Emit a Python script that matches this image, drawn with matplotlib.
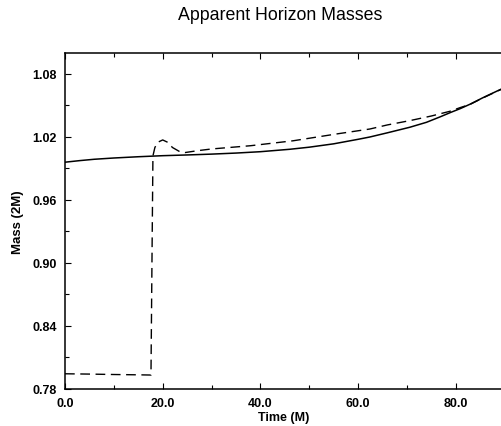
import matplotlib
matplotlib.use("Agg")
import matplotlib.pyplot as plt
from matplotlib.ticker import MultipleLocator, FormatStrFormatter

plt.rcParams['font.family'] = ['Liberation Sans', 'DejaVu Sans']

# Solid curve (apparent horizon mass, one horizon)
t_solid = [0.0, 3.0, 6.0, 10.0, 15.0, 20.0, 25.0, 30.0, 35.0, 40.0, 46.0, 50.0, 55.0,
           60.0, 62.4, 66.0, 70.6, 74.0, 76.8, 79.0, 80.9, 82.9, 85.5, 88.6, 90.0]
m_solid = [0.996, 0.9975, 0.9988, 1.0000, 1.0012, 1.0022, 1.0029, 1.0037, 1.0047, 1.0060,
           1.0083, 1.0103, 1.0135, 1.0178, 1.0200, 1.0240, 1.0293, 1.0340, 1.0392, 1.0435,
           1.0470, 1.0512, 1.0573, 1.0641, 1.0670]

# Dashed curve (apparent horizon mass, other horizon)
t_dash = [0.0, 5.0, 10.0, 15.0, 17.6, 17.8, 18.0, 18.4, 19.0, 20.0, 21.0, 22.0,
          23.5, 24.6, 27.2, 30.0, 38.0, 46.7, 55.6, 62.4, 66.0, 70.6, 75.0, 78.8,
          80.9, 82.9, 85.5, 88.6, 90.0]
m_dash = [0.7945, 0.7942, 0.7938, 0.7935, 0.7933, 0.9000, 1.0020, 1.0100, 1.0150, 1.0172,
          1.0150, 1.0100, 1.0060, 1.0052, 1.0070, 1.0086, 1.0117, 1.0164, 1.0229, 1.0276,
          1.0315, 1.0356, 1.0400, 1.0445, 1.0480, 1.0510, 1.0571, 1.0639, 1.0668]

x_major = [0.0, 20.0, 40.0, 60.0, 80.0]
y_major = [0.78, 0.84, 0.90, 0.96, 1.02, 1.08]

W, H = 501, 427
fig = plt.figure(figsize=(W / 100, H / 100), dpi=100)
left, right, bottom, top = 65, 503, 390, 54
ax = fig.add_axes([left / W, 1 - bottom / H, (right - left) / W, (bottom - top) / H])

ax.plot(t_solid, m_solid, color='black', lw=1.1, solid_joinstyle='round')
ax.plot(t_dash, m_dash, color='black', lw=1.0, dashes=(7, 4))

ax.set_xlim(0, (right - left) / 4.885)
ax.set_ylim(0.78, 1.10)
ax.set_xticks(x_major)
ax.set_yticks(y_major)
ax.xaxis.set_minor_locator(MultipleLocator(10))
ax.yaxis.set_minor_locator(MultipleLocator(0.03))
ax.xaxis.set_major_formatter(FormatStrFormatter('%.1f'))
ax.yaxis.set_major_formatter(FormatStrFormatter('%.2f'))
ax.tick_params(which='both', direction='in', top=True, right=False, width=0.8)
ax.tick_params(which='major', length=4, labelsize=9, pad=6)
ax.tick_params(which='minor', length=3)
for lab in ax.get_xticklabels() + ax.get_yticklabels():
    lab.set_fontweight('bold')
ax.spines['right'].set_visible(False)
for s in ['left', 'bottom', 'top']:
    ax.spines[s].set_linewidth(1.1)

ax.set_xlabel('Time (M)', fontsize=9, fontweight='bold', labelpad=1)
ax.set_ylabel('Mass (2M)', fontsize=9.5, fontweight='bold', labelpad=6)
fig.text(280 / W, 1 - 16 / H, 'Apparent Horizon Masses', ha='center', va='center', fontsize=12.8)

fig.savefig('out.png', dpi=100)
